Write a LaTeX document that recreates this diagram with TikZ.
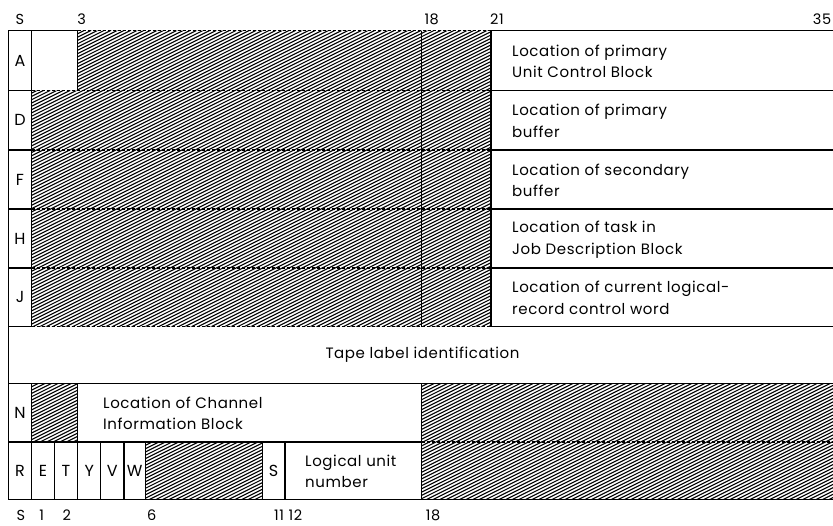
\documentclass[tikz,border=0pt]{standalone}
\usepackage{fontspec}
\setmainfont{Poppins}
\newfontfamily\descfont[LetterSpace=4]{Poppins}
\begin{document}
\begin{tikzpicture}[x=1pt,y=-1pt,
  grid/.style={line width=1.1pt},
  dashline/.style={line width=1.1pt, dash pattern=on 3pt off 2pt},
  hatchline/.style={line width=1.1pt},
  lbl/.style={font=\descfont\fontsize{14.5}{15}\selectfont, inner sep=0pt, anchor=base},
  cellt/.style={font=\fontsize{16}{16}\selectfont, inner sep=0pt},
  desc/.style={font=\descfont\fontsize{15}{21.6}\selectfont, align=left, anchor=west, inner sep=0pt}]
\useasboundingbox (0,0) rectangle (833,525);

% hatching
\begin{scope}
\clip (77.7,30.5) rectangle (491,90.5)
      (31.7,90.5) rectangle (491,326.5)
      (31.7,383.5) rectangle (77.7,442)
      (421.7,383.5) rectangle (833,499.5)
      (145.7,442) rectangle (262.3,499.5);
\foreach \c in {0,3.3,...,945} \draw[hatchline] (0,\c) -- (833,\c-416.5);
\end{scope}

% outer left border
\draw[grid] (8.3,30.5) -- (8.3,499.5);
% horizontals, rows A..J
\draw[grid] (8.3,30.5) -- (77.7,30.5);
\draw[dashline] (77.7,30.5) -- (491,30.5);
\draw[grid] (491,30.5) -- (833,30.5);
\foreach \yy in {90.5,150,209,268,326.5}{
  \draw[grid] (8.3,\yy) -- (31.7,\yy);
  \draw[dashline] (31.7,\yy) -- (491,\yy);
  \draw[grid] (491,\yy) -- (833,\yy);
}
\draw[grid] (8.3,383.5) -- (833,383.5);
\draw[grid] (8.3,442) -- (421.7,442);
\draw[dashline] (421.7,442) -- (833,442);
\draw[grid] (8.3,499.5) -- (833,499.5);
% verticals
\draw[grid] (31.7,30.5) -- (31.7,326.5);
\draw[grid] (31.7,383.5) -- (31.7,499.5);
\draw[grid] (77.7,30.5) -- (77.7,90.5);
\draw[grid] (77.7,383.5) -- (77.7,499.5);
\draw[grid] (421.7,30.5) -- (421.7,326.5);
\draw[grid] (421.7,383.5) -- (421.7,499.5);
\draw[grid] (491,30.5) -- (491,326.5);
\foreach \xx in {54.3,100.7,124,145.7,262.3,285}
  \draw[grid] (\xx,442) -- (\xx,499.5);

% top bit labels
\node[lbl] (tS) at (20,24.5) {S};
\node[lbl] (t3) at (81.7,24.5) {3};
\node[lbl] (t18) at (431.7,24.5) {18};
\node[lbl] (t21) at (497,24.5) {21};
\node[lbl] (t35) at (822,24.5) {35};
% bottom bit labels
\node[lbl] (bS) at (21,520.5) {S};
\node[lbl] (b1) at (41.7,520.5) {1};
\node[lbl] (b2) at (66.7,520.5) {2};
\node[lbl] (b6) at (151.7,520.5) {6};
\node[lbl] (b11) at (279,520.5) {11};
\node[lbl] (b12) at (295.5,520.5) {12};
\node[lbl] (b18) at (433,520.5) {18};

% row letters
\node[cellt] (cA) at (20,60.5) {A};
\node[cellt] (cD) at (20,120.2) {D};
\node[cellt] (cF) at (20,179.5) {F};
\node[cellt] (cH) at (20,238.5) {H};
\node[cellt] (cJ) at (20,297.2) {J};
\node[cellt] (cN) at (20,412.7) {N};
\node[cellt] (cR) at (20,470.7) {R};
\node[cellt] (cE) at (43,470.7) {E};
\node[cellt] (cT) at (66,470.7) {T};
\node[cellt] (cY) at (89.2,470.7) {Y};
\node[cellt] (cV) at (112.3,470.7) {V};
\node[cellt] (cW) at (134.8,470.7) {W};
\node[cellt] (cS) at (273.6,470.7) {S};

% descriptions
\node[desc] (dA) at (512,61.5) {Location of primary\\Unit Control Block};
\node[desc] (dD) at (512,121) {Location of primary\\buffer};
\node[desc] (dF) at (512,180.5) {Location of secondary\\buffer};
\node[desc] (dH) at (512,239.5) {Location of task in\\Job Description Block};
\node[desc] (dJ) at (512,298) {Location of current logical-\\record control word};
\node[desc,anchor=center] (dT) at (422.5,355) {Tape label identification};
\node[desc] (dN) at (103,413.5) {Location of Channel\\Information Block};
\node[desc] (dL) at (305,471.5) {Logical unit\\number};
\end{tikzpicture}
\end{document}
